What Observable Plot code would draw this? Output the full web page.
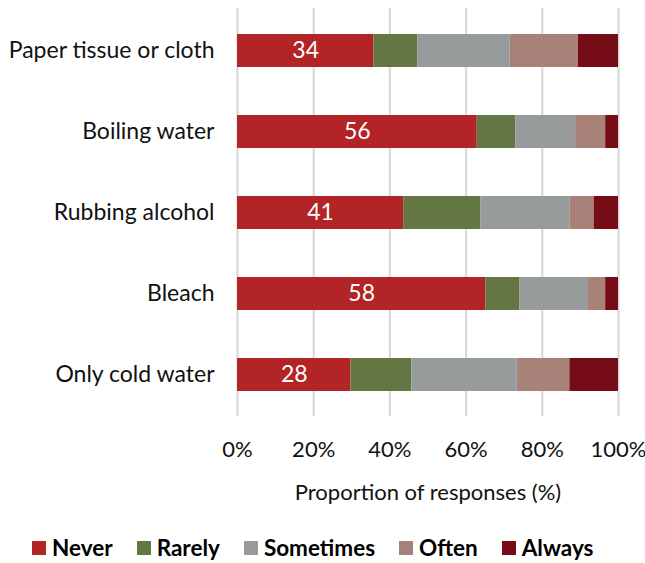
<!DOCTYPE html>
<html>
<head>
<meta charset="utf-8">
<script src="https://cdn.jsdelivr.net/npm/d3@7"></script>
<script src="https://cdn.jsdelivr.net/npm/@observablehq/plot@0.6"></script>
<style>
  body { margin: 0; background: #fff; font-family: Lato, "Open Sans", sans-serif; }
  #chart { width: 645px; }
  .legend { display: flex; justify-content: flex-start; align-items: center; margin-left: 32px; margin-top: 6px; font-weight: bold; font-size: 22.5px; line-height: 28px; color: #000; }
  .legend .item { display: flex; align-items: center; margin-right: 24px; }
  .legend .sw { width: 14px; height: 14px; margin-right: 6px; }
</style>
</head>
<body>
<div id="chart"></div>
<script>
const methods = ["Paper tissue or cloth", "Boiling water", "Rubbing alcohol", "Bleach", "Only cold water"];
const responses = ["Never", "Rarely", "Sometimes", "Often", "Always"];
const colors = ["#b22425", "#657645", "#989b9b", "#a88179", "#750c16"];
// counts per response, in the order of methods
const never     = [34, 56, 41, 58, 28];
const rarely    = [11,  9, 19,  8, 15];
const sometimes = [23, 14, 22, 16, 26];
const often     = [17,  7,  6,  4, 13];
const always    = [10,  3,  6,  3, 12];
const xTicks = [0, 0.2, 0.4, 0.6, 0.8, 1];

const series = [never, rarely, sometimes, often, always];
const data = [];
methods.forEach((m, i) => responses.forEach((r, j) => data.push({method: m, response: r, count: series[j][i]})));

const stackOpts = {x: "count", y: "method", z: "response", order: responses, offset: "normalize"};

const plot = Plot.plot({
  width: 645,
  height: 528,
  marginLeft: 237,
  marginRight: 27,
  marginTop: 8,
  marginBottom: 112,
  style: {fontFamily: "Lato, 'Open Sans', sans-serif", fontSize: "23px", color: "#111"},
  x: {domain: [0, 1]},
  y: {domain: methods, paddingInner: 0.595, paddingOuter: 0.3},
  color: {domain: responses, range: colors},
  marks: [
    Plot.gridX(xTicks, {stroke: "#d9d9d9", strokeWidth: 2.2, strokeOpacity: 1}),
    Plot.barX(data, Plot.stackX({...stackOpts, fill: "response"})),
    Plot.text(data, Plot.stackX({...stackOpts, text: d => d.response === "Never" ? String(d.count) : "", fill: "white", fontSize: 23})),
    Plot.axisY({tickSize: 0, tickPadding: 23, fontSize: 23, label: null}),
    Plot.axisX({ticks: xTicks, tickFormat: d => Math.round(d * 100) + "%", tickSize: 0, tickPadding: 25, fontSize: 22,
      label: "Proportion of responses (%)", labelAnchor: "center", labelArrow: "none", labelOffset: 83})
  ]
});
document.getElementById("chart").appendChild(plot);

const legend = document.createElement("div");
legend.className = "legend";
responses.forEach((r, j) => {
  const it = document.createElement("div");
  it.className = "item";
  const sw = document.createElement("span");
  sw.className = "sw";
  sw.style.background = colors[j];
  const t = document.createElement("span");
  t.textContent = r;
  it.appendChild(sw); it.appendChild(t);
  legend.appendChild(it);
});
document.getElementById("chart").appendChild(legend);
</script>
</body>
</html>
